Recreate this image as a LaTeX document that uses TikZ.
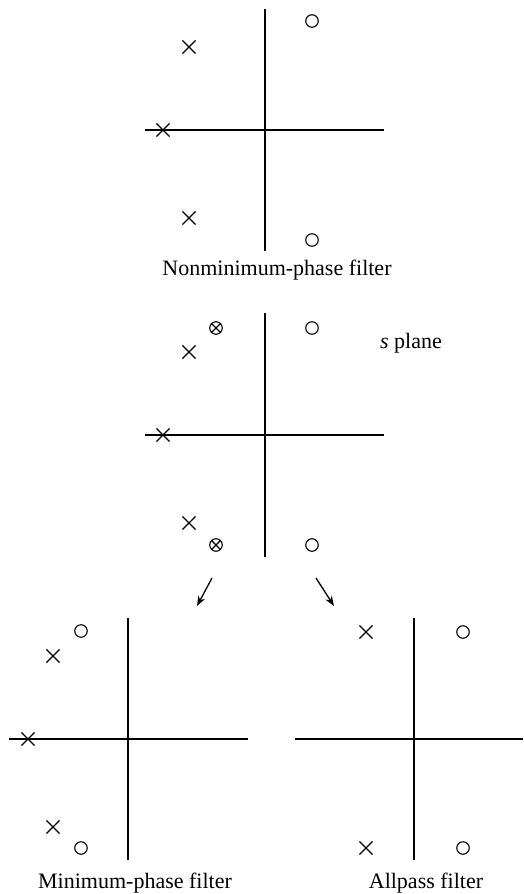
\documentclass[tikz,border=0pt]{standalone}
\usepackage{fontspec}
\setmainfont{Liberation Serif}
\usetikzlibrary{shapes.misc,arrows.meta}
\begin{document}
\begin{tikzpicture}[x=1pt,y=-1pt,
  axis/.style={line width=1.4pt},
  pole/.style={draw,cross out,minimum size=12pt,inner sep=0pt,line width=1.1pt},
  zero/.style={draw,circle,minimum size=12.5pt,inner sep=0pt,line width=1.1pt},
  pz/.style={draw,circle,minimum size=12.5pt,inner sep=0pt,line width=1.1pt,
    path picture={\draw[line width=1.1pt] (path picture bounding box.north west)--(path picture bounding box.south east) (path picture bounding box.north east)--(path picture bounding box.south west);}},
  lbl/.style={font=\fontsize{22}{26}\selectfont, inner sep=0pt, anchor=base},
  arr/.style={line width=1.3pt,-{Stealth[length=10pt,width=7.5pt]}}
]
\useasboundingbox (0,0) rectangle (524,894);

% ---- top: nonminimum-phase
\coordinate (t-vt) at (265,9);   \coordinate (t-vb) at (265,251);
\coordinate (t-hl) at (145,130); \coordinate (t-hr) at (384,130);
\draw[axis] (t-vt) -- (t-vb);
\draw[axis] (t-hl) -- (t-hr);
\node[pole] (t-p1) at (189,47) {};
\node[pole] (t-p2) at (163,130) {};
\node[pole] (t-p3) at (189,218) {};
\node[zero] (t-z1) at (312,21) {};
\node[zero] (t-z2) at (312,240) {};
\node[lbl] (t-lbl) at (277,275) {Nonminimum-phase filter};

% ---- middle: s plane
\coordinate (m-vt) at (265,313); \coordinate (m-vb) at (265,557);
\coordinate (m-hl) at (145,435); \coordinate (m-hr) at (384,435);
\draw[axis] (m-vt) -- (m-vb);
\draw[axis] (m-hl) -- (m-hr);
\node[pz] (m-pz1) at (216,328) {};
\node[pz] (m-pz2) at (216,545) {};
\node[pole] (m-p1) at (189,352) {};
\node[pole] (m-p2) at (163,435) {};
\node[pole] (m-p3) at (189,523) {};
\node[zero] (m-z1) at (312,328) {};
\node[zero] (m-z2) at (312,545) {};
\node[lbl] (m-lbl) at (411,348) {\textit{s} plane};

% ---- arrows
\coordinate (a1s) at (212,578); \coordinate (a1e) at (197,606);
\coordinate (a2s) at (316,578); \coordinate (a2e) at (334,606);
\draw[arr] (a1s) -- (a1e);
\draw[arr] (a2s) -- (a2e);

% ---- bottom left: minimum-phase
\coordinate (l-vt) at (128,618); \coordinate (l-vb) at (128,860);
\coordinate (l-hl) at (9,739);   \coordinate (l-hr) at (248,739);
\draw[axis] (l-vt) -- (l-vb);
\draw[axis] (l-hl) -- (l-hr);
\node[zero] (l-z1) at (81,631) {};
\node[pole] (l-p1) at (53,656) {};
\node[pole] (l-p2) at (28,739) {};
\node[pole] (l-p3) at (53,827) {};
\node[zero] (l-z2) at (81,848) {};
\node[lbl] (l-lbl) at (135,888) {Minimum-phase filter};

% ---- bottom right: allpass
\coordinate (r-vt) at (414,618); \coordinate (r-vb) at (414,860);
\coordinate (r-hl) at (295,739); \coordinate (r-hr) at (523,739);
\draw[axis] (r-vt) -- (r-vb);
\draw[axis] (r-hl) -- (r-hr);
\node[pole] (r-p1) at (366,632) {};
\node[zero] (r-z1) at (463,632) {};
\node[pole] (r-p2) at (366,848) {};
\node[zero] (r-z2) at (463,848) {};
\node[lbl] (r-lbl) at (426,888) {Allpass filter};
\end{tikzpicture}
\end{document}
